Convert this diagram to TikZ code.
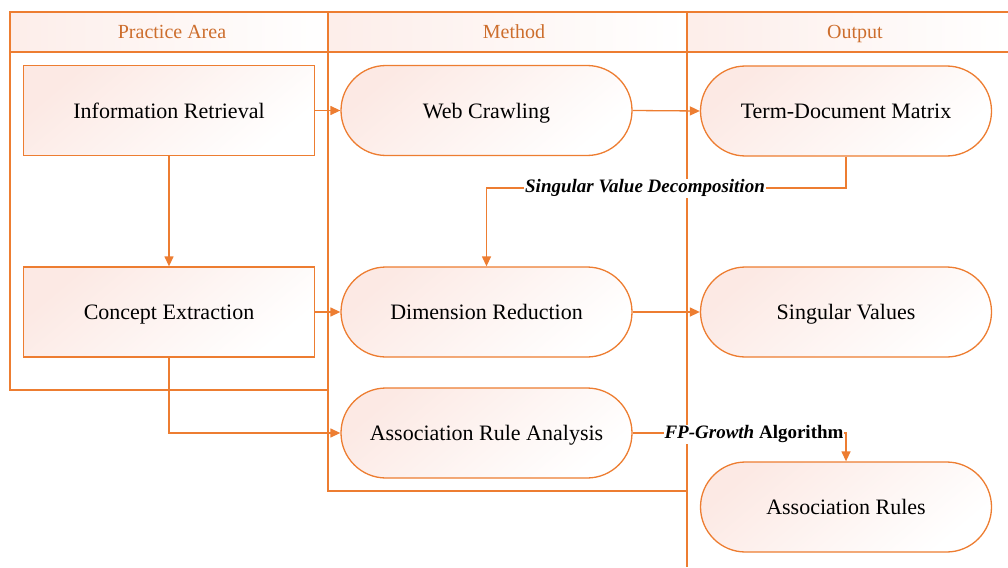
\documentclass[tikz,border=0pt]{standalone}
\usepackage{fontspec}
\setmainfont{Liberation Serif}
\usetikzlibrary{arrows.meta,shapes.misc}
\definecolor{org}{RGB}{237,125,49}
\definecolor{hdr}{RGB}{205,110,45}
\definecolor{pk}{RGB}{252,233,228}
\begin{document}
\begin{tikzpicture}[x=1pt,y=-1pt,
 lane/.style={draw=org,line width=1.2pt},
 hdrfill/.style={left color=pk!80,middle color=pk!20,right color=white},
 hdrtext/.style={text=hdr,font=\fontsize{20}{24}\selectfont,inner sep=0pt,text height=16pt,text depth=2.5pt},
 boxnode/.style={draw=org,line width=1.3pt,left color=pk,middle color=pk!15,right color=white,shading angle=40,minimum width=291pt,minimum height=90pt,font=\fontsize{22}{26}\selectfont,inner sep=0pt,text height=18pt,text depth=3pt},
 rectbox/.style={boxnode,rectangle},
 pill/.style={boxnode,rounded rectangle},
 arr/.style={draw=org,line width=1.3pt,-{Triangle[length=10pt,width=9pt]}},
 lbl/.style={fill=white,inner sep=1pt,font=\fontsize{19}{22}\selectfont\bfseries,text height=13pt,text depth=4pt}]
\useasboundingbox (0,0) rectangle (1008,567);
% lanes
\shade[hdrfill] (10,12) rectangle (328,52);
\shade[hdrfill] (328,12) rectangle (687,52);
\shade[hdrfill] (687,12) rectangle (1008,52);
\draw[lane] (10,12) rectangle (328,390);
\draw[lane] (10,52) -- (328,52);
\draw[lane] (328,12) rectangle (687,491);
\draw[lane] (328,52) -- (687,52);
\draw[lane] (1008,12) -- (687,12) -- (687,567);
\draw[lane] (687,52) -- (1008,52);
\node[hdrtext] (h1) at (172,32) {Practice Area};
\node[hdrtext] (h2) at (514,32) {Method};
\node[hdrtext] (h3) at (855,32) {Output};
% nodes
\node[rectbox] (ir) at (169,110.5) {Information Retrieval};
\node[rectbox] (ce) at (169,312) {Concept Extraction};
\node[pill] (wc) at (486.5,110.5) {Web Crawling};
\node[pill] (dr) at (486.5,312) {Dimension Reduction};
\node[pill] (ara) at (486.5,433) {Association Rule Analysis};
\node[pill] (tdm) at (846,111) {Term-Document Matrix};
\node[pill] (sv) at (846,312) {Singular Values};
\node[pill] (ar) at (846,507) {Association Rules};
% connectors
\coordinate (s1) at (846,188);
\coordinate (s2) at (486.5,188);
\draw[arr] (ir.east) -- (wc.west);
\draw[arr] (wc.east) -- (tdm.west);
\draw[arr] (ir.south) -- (ce.north);
\draw[arr] (ce.east) -- (dr.west);
\draw[arr] (dr.east) -- (sv.west);
\draw[arr] (ce.south) |- (ara.west);
\draw[arr] (tdm.south) -- (s1) -- (s2) -- (dr.north);
\draw[arr] (ara.east) -| (ar.north);
\node[lbl] (l1) at (645,188) {\itshape Singular Value Decomposition};
\node[lbl] (l2) at (754,434) {\itshape FP-Growth\upshape{} Algorithm};
\end{tikzpicture}
\end{document}
